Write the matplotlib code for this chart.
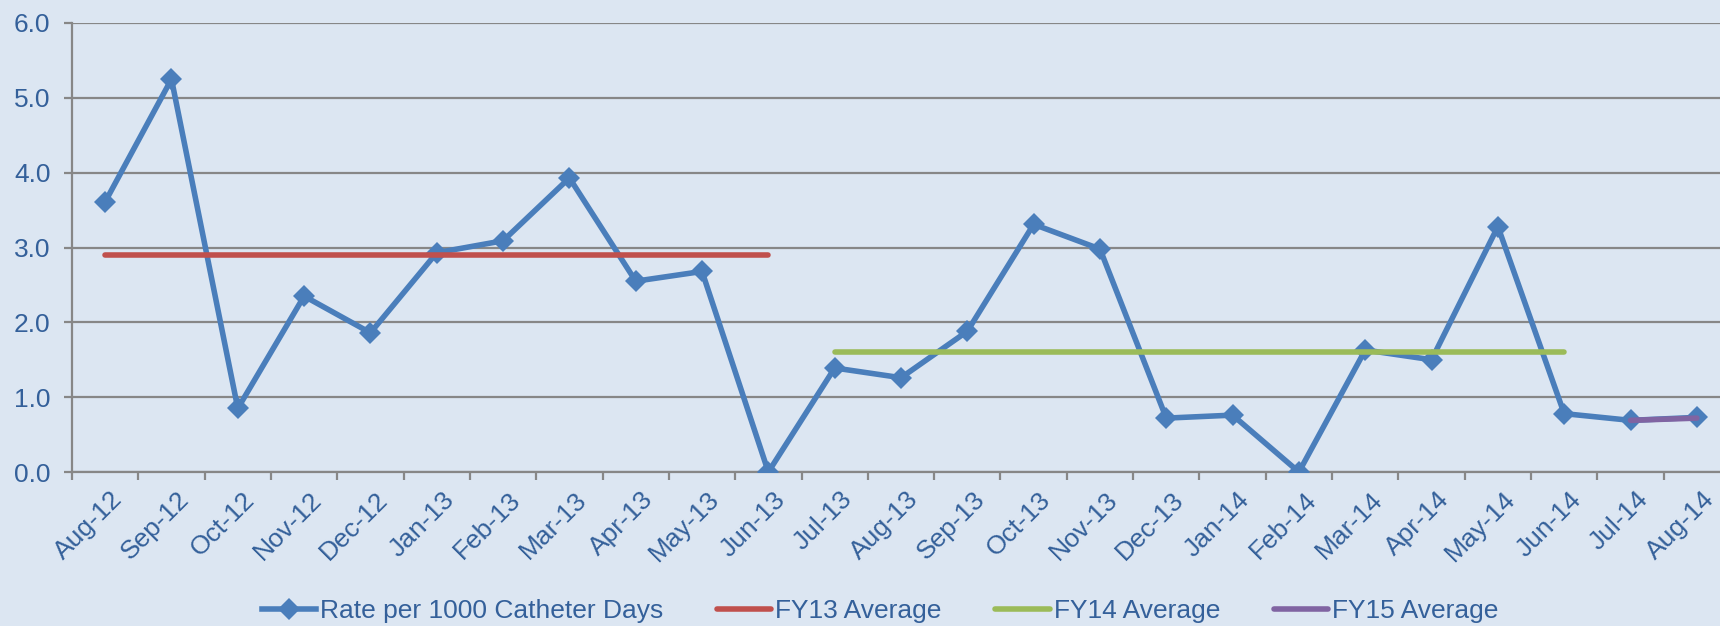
import matplotlib
matplotlib.use("Agg")
import matplotlib.pyplot as plt
from matplotlib.lines import Line2D
from matplotlib.transforms import ScaledTranslation
import numpy as np

months = ["Aug-12", "Sep-12", "Oct-12", "Nov-12", "Dec-12", "Jan-13", "Feb-13", "Mar-13",
          "Apr-13", "May-13", "Jun-13", "Jul-13", "Aug-13", "Sep-13", "Oct-13", "Nov-13",
          "Dec-13", "Jan-14", "Feb-14", "Mar-14", "Apr-14", "May-14", "Jun-14", "Jul-14", "Aug-14"]
rate = [3.61, 5.25, 0.85, 2.35, 1.86, 2.93, 3.09, 3.93, 2.55, 2.68, 0.0,
        1.39, 1.26, 1.88, 3.31, 2.98, 0.72, 0.76, 0.0, 1.63, 1.50, 3.28, 0.78, 0.69, 0.73]
fy13_avg = [2.90] * 11
fy14_avg = [1.60] * 12
fy15_avg = [0.69, 0.72]
yticks = [0.0, 1.0, 2.0, 3.0, 4.0, 5.0, 6.0]

BG = "#DCE6F2"
TXT = "#34609A"
GRID = "#878787"
BLUE = "#4A7EBB"
RED = "#C0504D"
GREEN = "#9BBB59"
PURPLE = "#8064A2"
FS = 19
LW = 4.0

plt.rcParams['font.family'] = ['Liberation Sans', 'DejaVu Sans']

fig = plt.figure(figsize=(17.2, 6.26), dpi=100, facecolor=BG)
ax = fig.add_axes([72/1720, 1 - 472/626, 1658/1720, (472-23)/626])
ax.set_facecolor(BG)

x = np.arange(len(months))
ax.plot(x, rate, color=BLUE, lw=LW, marker='D', markersize=11.5, markeredgewidth=0,
        zorder=3, solid_joinstyle='miter')
ax.plot(x[0:11], fy13_avg, color=RED, lw=LW, solid_capstyle='round', zorder=4)
ax.plot(x[11:23], fy14_avg, color=GREEN, lw=LW, solid_capstyle='round', zorder=4)
ax.plot(x[23:25], fy15_avg, color=PURPLE, lw=LW, solid_capstyle='round', zorder=4)

ax.set_xlim(-0.5, len(months) - 0.5)
ax.set_ylim(0, 6)
ax.set_yticks(yticks)
ax.set_yticklabels([f"{v:.1f}" for v in yticks])
ax.yaxis.grid(True, color=GRID, lw=1.6)
ax.set_axisbelow(True)

ax.set_xticks(np.arange(len(months) + 1) - 0.5)
ax.set_xticklabels([])
ax.set_xticks(x, minor=True)
ax.set_xticklabels(months, minor=True, rotation=45, ha='right', va='top',
                   rotation_mode='anchor')
ax.tick_params(axis='x', which='major', length=6, width=1.6, color=GRID, direction='out')
ax.tick_params(axis='x', which='minor', length=0, pad=11, labelsize=FS, labelcolor=TXT)
ax.tick_params(axis='y', length=6, width=1.6, color=GRID, labelsize=FS, labelcolor=TXT, pad=9.5)
off = ScaledTranslation(5/100, 0, fig.dpi_scale_trans)
for lab in ax.get_xticklabels(minor=True):
    lab.set_transform(lab.get_transform() + off)

for s in ['top', 'right']:
    ax.spines[s].set_visible(False)
for s in ['left', 'bottom']:
    ax.spines[s].set_color(GRID)
    ax.spines[s].set_linewidth(1.6)

handles = [
    Line2D([], [], color=BLUE, lw=LW, marker='D', markersize=11, markeredgewidth=0),
    Line2D([], [], color=RED, lw=LW, solid_capstyle='round'),
    Line2D([], [], color=GREEN, lw=LW, solid_capstyle='round'),
    Line2D([], [], color=PURPLE, lw=LW, solid_capstyle='round'),
]
labels = ["Rate per 1000 Catheter Days", "FY13 Average", "FY14 Average", "FY15 Average"]
leg = fig.legend(handles, labels, loc='center', bbox_to_anchor=(880/1720, 1 - 611/626), ncol=4,
                 frameon=False, fontsize=FS, handlelength=2.05, handletextpad=0.15,
                 columnspacing=2.05, labelcolor=TXT, borderpad=0, borderaxespad=0)

fig.savefig("out.png", dpi=100, facecolor=BG)
